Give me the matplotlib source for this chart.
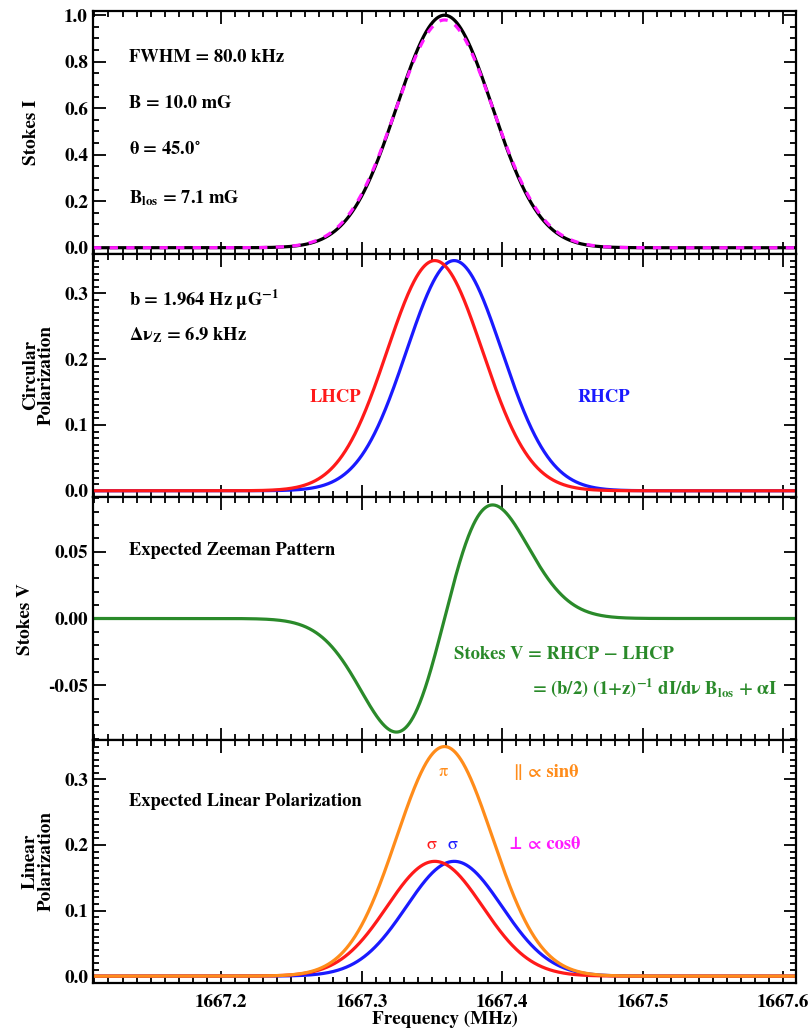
import numpy as np
import matplotlib
matplotlib.use("Agg")
import matplotlib.pyplot as plt
from matplotlib.ticker import MultipleLocator, FormatStrFormatter

# Line parameters as printed on the chart (OH 1667 MHz line)
FREQ_CENTER = 1667.359   # MHz
FREQ_HALF_SPAN = 0.25    # MHz either side of the line
FWHM_KHZ = 80.0
B_MG = 10.0
THETA_DEG = 45.0
B_LOS_MG = 7.1
B_COEFF = 1.964          # Hz per microgauss
DNU_Z_KHZ = 6.9          # shift of each circular component

# Peak heights
PEAK_I = 1.0
PEAK_CIRC = 0.35
PEAK_PI = 0.35
PEAK_SIGMA = 0.175

XTICKS = [1667.2, 1667.3, 1667.4, 1667.5, 1667.6]

RED = "#ff1a1a"
BLUE = "#1a1aff"
GREEN = "#2a8a2a"
ORANGE = "#ff8c1a"
MAGENTA = "#ff1aff"

plt.rcParams["font.family"] = ["STIXGeneral", "DejaVu Serif"]
plt.rcParams["font.weight"] = "bold"
plt.rcParams["mathtext.fontset"] = "stix"
plt.rcParams["mathtext.default"] = "bf"
plt.rcParams["axes.linewidth"] = 1.6

FS = 13.3


def gauss(nu, nu0, peak):
    """Gaussian profile with the chart's FWHM."""
    sig = FWHM_KHZ / 1000.0 / (2.0 * np.sqrt(2.0 * np.log(2.0)))
    return peak * np.exp(-0.5 * ((nu - nu0) / sig) ** 2)


def style_axis(ax, ymin, ymax, ymajor, yminor, fmt):
    ax.set_xlim(FREQ_CENTER - FREQ_HALF_SPAN, FREQ_CENTER + FREQ_HALF_SPAN)
    ax.set_ylim(ymin, ymax)
    ax.xaxis.set_major_locator(MultipleLocator(0.1))
    ax.xaxis.set_minor_locator(MultipleLocator(0.01))
    ax.yaxis.set_major_locator(MultipleLocator(ymajor))
    ax.yaxis.set_minor_locator(MultipleLocator(yminor))
    ax.yaxis.set_major_formatter(FormatStrFormatter(fmt))
    ax.tick_params(which="both", direction="in", top=True, right=True,
                   labelsize=FS + 0.5, width=1.3)
    ax.tick_params(which="major", length=9)
    ax.tick_params(which="minor", length=4.5)
    for lab in ax.get_yticklabels():
        lab.set_fontweight("bold")


freq = np.linspace(FREQ_CENTER - FREQ_HALF_SPAN, FREQ_CENTER + FREQ_HALF_SPAN, 2001)
dnu = DNU_Z_KHZ / 1000.0

stokes_i = gauss(freq, FREQ_CENTER, PEAK_I)
lhcp = gauss(freq, FREQ_CENTER - dnu, PEAK_CIRC)
rhcp = gauss(freq, FREQ_CENTER + dnu, PEAK_CIRC)
i_from_circ = (lhcp + rhcp) / (2.0 * PEAK_CIRC) * PEAK_I
stokes_v = rhcp - lhcp
lin_pi = gauss(freq, FREQ_CENTER, PEAK_PI)
sigma_l = gauss(freq, FREQ_CENTER - dnu, PEAK_SIGMA)
sigma_r = gauss(freq, FREQ_CENTER + dnu, PEAK_SIGMA)

fig, axes = plt.subplots(4, 1, sharex=True, figsize=(8.11, 10.29), dpi=100)
fig.subplots_adjust(left=0.1147, right=0.9815, top=0.9893, bottom=0.0447, hspace=0)
ax1, ax2, ax3, ax4 = axes
lw = 2.3

# Stokes I
ax1.plot(freq, stokes_i, color="black", lw=lw)
ax1.plot(freq, i_from_circ, color=MAGENTA, lw=lw, linestyle=(0, (2.6, 2.6)))
style_axis(ax1, -0.027, 1.018, 0.2, 0.05, "%.1f")
tx = 0.051
ax1.text(tx, 0.81, "FWHM = %.1f kHz" % FWHM_KHZ, transform=ax1.transAxes, fontsize=FS, va="center")
ax1.text(tx, 0.62, "B = %.1f mG" % B_MG, transform=ax1.transAxes, fontsize=FS, va="center")
ax1.text(tx, 0.43, "θ = %.1f$^{\\circ}$" % THETA_DEG, transform=ax1.transAxes, fontsize=FS, va="center")
ax1.text(tx, 0.23, "B$_{los}$ = %.1f mG" % B_LOS_MG, transform=ax1.transAxes, fontsize=FS, va="center")

# Circular polarization
ax2.plot(freq, rhcp, color=BLUE, lw=lw)
ax2.plot(freq, lhcp, color=RED, lw=lw)
style_axis(ax2, -0.0095, 0.36, 0.1, 0.01, "%.1f")
ax2.text(tx, 0.81, "b = %.3f Hz μG$^{-1}$" % B_COEFF, transform=ax2.transAxes, fontsize=FS, va="center")
ax2.text(tx, 0.665, "Δν$_{Z}$ = %.1f kHz" % DNU_Z_KHZ, transform=ax2.transAxes, fontsize=FS, va="center")
ax2.text(0.345, 0.41, "LHCP", color=RED, transform=ax2.transAxes, fontsize=FS, ha="center", va="center")
ax2.text(0.727, 0.41, "RHCP", color=BLUE, transform=ax2.transAxes, fontsize=FS, ha="center", va="center")

# Stokes V
ax3.plot(freq, stokes_v, color=GREEN, lw=lw)
style_axis(ax3, -0.091, 0.091, 0.05, 0.01, "%.2f")
ax3.text(tx, 0.78, "Expected Zeeman Pattern", transform=ax3.transAxes, fontsize=FS, va="center")
ax3.text(0.5135, 0.35, "Stokes V = RHCP − LHCP", color=GREEN, transform=ax3.transAxes,
         fontsize=FS, va="center")
ax3.text(0.6245, 0.215, "= (b/2) (1+z)$^{-1}$ dI/dν B$_{los}$ + αI", color=GREEN,
         transform=ax3.transAxes, fontsize=FS, va="center")

# Linear polarization
ax4.plot(freq, sigma_r, color=BLUE, lw=lw)
ax4.plot(freq, sigma_l, color=RED, lw=lw)
ax4.plot(freq, lin_pi, color=ORANGE, lw=lw)
style_axis(ax4, -0.0105, 0.36, 0.1, 0.01, "%.1f")
ax4.text(tx, 0.745, "Expected Linear Polarization", transform=ax4.transAxes, fontsize=FS, va="center")
ax4.text(0.498, 0.868, "π", color=ORANGE, transform=ax4.transAxes, fontsize=FS, ha="center",
         va="center", fontweight="normal")
ax4.text(0.599, 0.868, "∥ ∝ sinθ", color=ORANGE, transform=ax4.transAxes, fontsize=FS, va="center")
ax4.text(0.482, 0.568, "σ", color=RED, transform=ax4.transAxes, fontsize=FS, ha="center",
         va="center", fontweight="normal")
ax4.text(0.511, 0.568, "σ", color=BLUE, transform=ax4.transAxes, fontsize=FS, ha="center",
         va="center", fontweight="normal")
ax4.text(0.592, 0.568, "⊥ ∝ cosθ", color=MAGENTA, transform=ax4.transAxes, fontsize=FS, va="center")

ax4.set_xticks(XTICKS)
ax4.xaxis.set_major_formatter(FormatStrFormatter("%.1f"))
for lab in ax4.get_xticklabels():
    lab.set_fontweight("bold")
ax4.tick_params(axis="x", pad=8)
ax4.set_xlabel("Frequency (MHz)", fontsize=FS + 0.5, fontweight="bold", labelpad=0)

# y titles placed in figure pixels
W, H = 811.0, 1029.0
ylabels = [("Stokes I", 31, 132), ("Circular\nPolarization", 38, 375),
           ("Stokes V", 26, 619), ("Linear\nPolarization", 38, 861)]
for txt, px, py in ylabels:
    fig.text(px / W, 1 - py / H, txt, rotation=90, ha="center", va="center",
             fontsize=FS + 0.5, fontweight="bold", linespacing=0.9)

fig.savefig("out.png", dpi=100)
